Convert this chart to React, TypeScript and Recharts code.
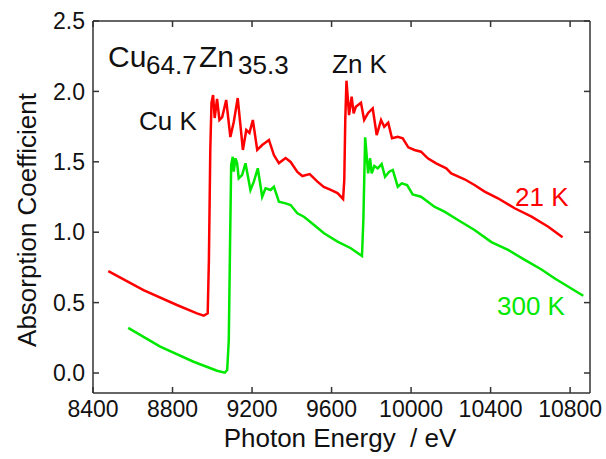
import { LineChart, Line, XAxis, YAxis } from "recharts";

// XANES spectra of Cu64.7Zn35.3 through the Cu K and Zn K edges
const energy21K = [
  8477, 8654, 8822, 8923, 8957, 8977, 8983, 8990, 8996, 9004, 9012, 9024, 9036, 9050,
  9070, 9091, 9108, 9128, 9154, 9171, 9187, 9204, 9226, 9251, 9285, 9310, 9335, 9369,
  9394, 9428, 9453, 9490, 9529, 9561, 9596, 9630, 9658, 9664, 9669, 9675, 9688, 9701,
  9711, 9722, 9748, 9764, 9784, 9807, 9827, 9849, 9865, 9885, 9904, 9933, 9958, 9986,
  10017, 10050, 10084, 10126, 10177, 10202, 10269, 10319, 10370, 10437, 10521, 10606,
  10690, 10762,
];
const absorb21K = [
  0.724, 0.589, 0.483, 0.424, 0.407, 0.424, 0.803, 1.584, 1.918, 1.974, 1.811, 1.946,
  1.797, 1.818, 1.939, 1.676, 1.783, 1.953, 1.584, 1.726, 1.705, 1.797, 1.584, 1.619,
  1.655, 1.548, 1.491, 1.527, 1.499, 1.428, 1.399, 1.413, 1.359, 1.321, 1.3, 1.278,
  1.236, 1.371, 1.797, 2.076, 1.832, 1.962, 1.844, 1.891, 1.92, 1.797, 1.847, 1.88,
  1.69, 1.797, 1.749, 1.778, 1.667, 1.678, 1.667, 1.603, 1.584, 1.572, 1.525, 1.489,
  1.454, 1.418, 1.376, 1.335, 1.288, 1.241, 1.17, 1.11, 1.039, 0.964,
];

const energy300K = [
  8577, 8738, 8906, 9024, 9063, 9075, 9083, 9089, 9095, 9103, 9108, 9117, 9125, 9133,
  9150, 9167, 9192, 9209, 9229, 9251, 9268, 9293, 9310, 9335, 9369, 9394, 9428, 9461,
  9512, 9562, 9630, 9697, 9753, 9760, 9769, 9784, 9794, 9802, 9815, 9832, 9852, 9869,
  9890, 9908, 9933, 9953, 9980, 10008, 10050, 10084, 10117, 10168, 10236, 10319, 10404,
  10488, 10572, 10656, 10723, 10866,
];
const absorb300K = [
  0.32, 0.187, 0.08, 0.016, 0.002, 0.021, 0.234, 0.874, 1.477, 1.536, 1.43, 1.525,
  1.489, 1.383, 1.406, 1.489, 1.3, 1.359, 1.454, 1.252, 1.312, 1.3, 1.323, 1.217,
  1.205, 1.193, 1.134, 1.11, 1.051, 0.992, 0.933, 0.886, 0.831, 1.087, 1.674, 1.418,
  1.525, 1.418, 1.47, 1.454, 1.484, 1.394, 1.43, 1.442, 1.323, 1.347, 1.335, 1.269,
  1.252, 1.217, 1.181, 1.146, 1.087, 1.016, 0.93, 0.874, 0.803, 0.735, 0.671, 0.549,
];

const energyTicks = [8400, 8800, 9200, 9600, 10000, 10400, 10800];
const absorbTicks = [0, 0.5, 1, 1.5, 2, 2.5];

const toPoints = (xs: number[], ys: number[]) => xs.map((e, i) => ({ e, mu: ys[i] }));
const data21K = toPoints(energy21K, absorb21K);
const data300K = toPoints(energy300K, absorb300K);

const FONT = '"Liberation Sans", Arial, Helvetica, sans-serif';
const AXIS = "#333";
const INK = "#111";
const RED = "#ff0000";
const GREEN = "#00e800";
const X_DOMAIN: [number, number] = [8400, 10900];
const Y_DOMAIN: [number, number] = [-0.142, 2.5];

const axisLine = { stroke: AXIS, strokeWidth: 1.5 };
const tickLine = { stroke: AXIS, strokeWidth: 1.5 };
const tickText = { fill: INK, fontSize: 23, fontFamily: FONT };
const blank = () => "";

export default function App() {
  return (
    <div style={{ position: "absolute", left: 0, top: 0, width: 606, height: 459, fontFamily: FONT }}>
      <LineChart width={606} height={459} margin={{ top: 0, right: 0, bottom: 0, left: 0 }}>
        <XAxis
          xAxisId="bottom"
          type="number"
          dataKey="e"
          domain={X_DOMAIN}
          ticks={energyTicks}
          allowDataOverflow
          height={66}
          tickSize={-6}
          tickMargin={14}
          axisLine={axisLine}
          tickLine={tickLine}
          tick={tickText}
        />
        <XAxis
          xAxisId="top"
          orientation="top"
          type="number"
          dataKey="e"
          domain={X_DOMAIN}
          ticks={energyTicks}
          allowDataOverflow
          height={21}
          tickSize={-6}
          tickFormatter={blank}
          axisLine={axisLine}
          tickLine={tickLine}
        />
        <YAxis
          yAxisId="left"
          type="number"
          domain={Y_DOMAIN}
          ticks={absorbTicks}
          allowDataOverflow
          width={93}
          tickSize={-6}
          tickMargin={14}
          tickFormatter={(v: number) => v.toFixed(1)}
          axisLine={axisLine}
          tickLine={tickLine}
          tick={tickText}
        />
        <YAxis
          yAxisId="right"
          orientation="right"
          type="number"
          domain={Y_DOMAIN}
          ticks={absorbTicks}
          allowDataOverflow
          width={16}
          tickSize={-6}
          tickFormatter={blank}
          axisLine={axisLine}
          tickLine={tickLine}
        />
        <Line
          xAxisId="bottom"
          yAxisId="left"
          data={data21K}
          dataKey="mu"
          type="linear"
          stroke={RED}
          strokeWidth={2.5}
          dot={false}
          isAnimationActive={false}
        />
        <Line
          xAxisId="bottom"
          yAxisId="left"
          data={data300K}
          dataKey="mu"
          type="linear"
          stroke={GREEN}
          strokeWidth={2.5}
          dot={false}
          isAnimationActive={false}
        />
      </LineChart>
      <svg
        width={606}
        height={459}
        style={{ position: "absolute", left: 0, top: 0, pointerEvents: "none" }}
        fontFamily={FONT}
      >
        <text x={36} y={220} transform="rotate(-90 36 220)" textAnchor="middle" fontSize={26} fill={INK}>
          Absorption Coefficient
        </text>
        <text x={340} y={447} textAnchor="middle" fontSize={26} fill={INK} style={{ whiteSpace: "pre" }}>
          {"Photon Energy  / eV"}
        </text>
        <text x={108} y={67} fontSize={30} fill={INK}>Cu</text>
        <text x={146} y={73.5} fontSize={26} fill={INK}>64.7</text>
        <text x={199} y={67} fontSize={30} fill={INK}>Zn</text>
        <text x={238} y={73.5} fontSize={26} fill={INK}>35.3</text>
        <text x={139} y={130} fontSize={26} fill={INK}>Cu K</text>
        <text x={332} y={73} fontSize={26} fill={INK}>Zn K</text>
        <text x={515} y={206} fontSize={26} fill={RED}>21 K</text>
        <text x={497} y={315} fontSize={26} fill={GREEN}>300 K</text>
      </svg>
    </div>
  );
}
